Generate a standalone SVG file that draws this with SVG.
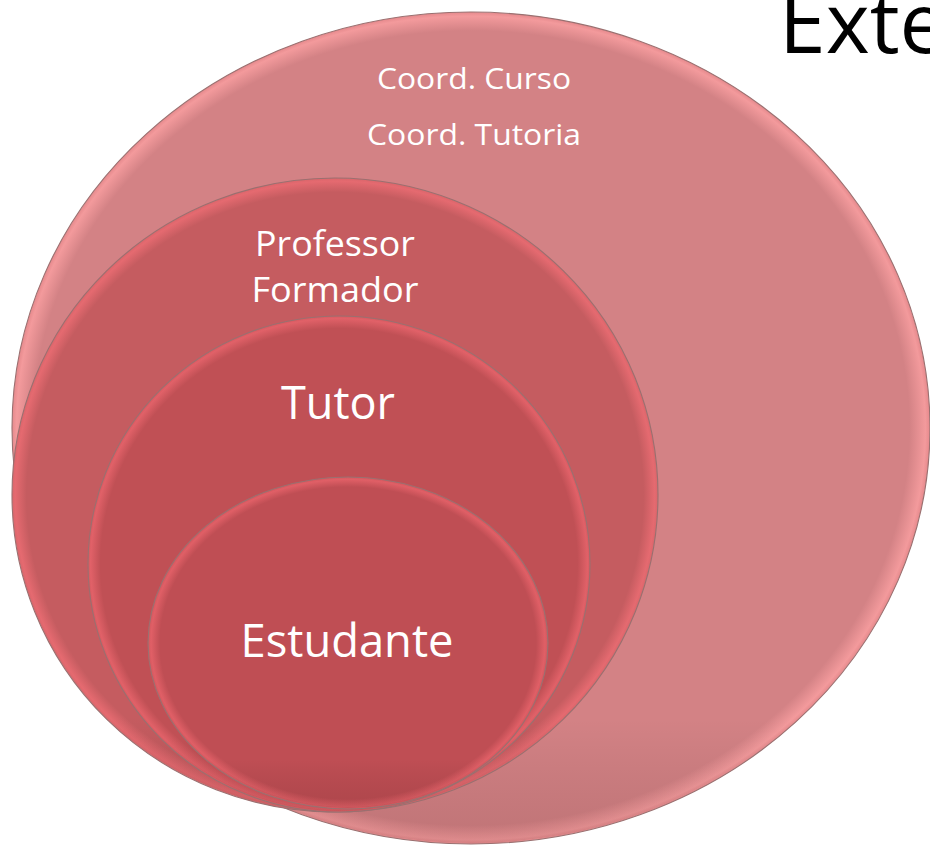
<svg xmlns="http://www.w3.org/2000/svg" width="930" height="850" viewBox="0 0 930 850">
  <defs>
    <radialGradient id="gOuter" cx="0.5" cy="0.5" r="0.5">
      <stop offset="0" stop-color="#d38285"/>
      <stop offset="0.955" stop-color="#d38285"/>
      <stop offset="0.99" stop-color="#f39a9c"/>
      <stop offset="1" stop-color="#e5898c"/>
    </radialGradient>
    <radialGradient id="gProf" cx="0.5" cy="0.5" r="0.5">
      <stop offset="0" stop-color="#c55c60"/>
      <stop offset="0.955" stop-color="#c55c60"/>
      <stop offset="0.99" stop-color="#e56a70"/>
      <stop offset="1" stop-color="#d9666b"/>
    </radialGradient>
    <radialGradient id="gTutor" cx="0.5" cy="0.5" r="0.5">
      <stop offset="0" stop-color="#c05055"/>
      <stop offset="0.95" stop-color="#c05055"/>
      <stop offset="0.99" stop-color="#e16168"/>
      <stop offset="1" stop-color="#d45a60"/>
    </radialGradient>
    <radialGradient id="gEst" cx="0.5" cy="0.5" r="0.5">
      <stop offset="0" stop-color="#bf4e54"/>
      <stop offset="0.94" stop-color="#bf4e54"/>
      <stop offset="0.985" stop-color="#e05f66"/>
      <stop offset="1" stop-color="#d2585e"/>
    </radialGradient>
    <linearGradient id="gShade" x1="0" y1="0" x2="0" y2="1">
      <stop offset="0" stop-color="#000" stop-opacity="0"/>
      <stop offset="0.85" stop-color="#000" stop-opacity="0"/>
      <stop offset="1" stop-color="#3a1010" stop-opacity="0.12"/>
    </linearGradient>
  </defs>
  <style>
    .rim { stroke: #9a7070; stroke-width: 1.1; }
    .lbl { font-family: "Open Sans", "Lato", "Liberation Sans", sans-serif; fill: #ffffff; text-anchor: middle; }
    .title { font-family: "Open Sans", "Lato", "Liberation Sans", sans-serif; fill: #000000; }
  </style>

  <text class="title" x="779" y="53" font-size="84">Exte</text>

  <g id="coord">
    <ellipse cx="471" cy="428" rx="459" ry="416" fill="url(#gOuter)" class="rim"/>
    <ellipse cx="471" cy="428" rx="458" ry="415" fill="url(#gShade)"/>
    <text class="lbl" x="474" y="89" font-size="29" textLength="194" lengthAdjust="spacingAndGlyphs">Coord. Curso</text>
    <text class="lbl" x="474" y="145" font-size="29" textLength="214" lengthAdjust="spacingAndGlyphs">Coord. Tutoria</text>
  </g>

  <g id="professor">
    <ellipse cx="335" cy="495" rx="323" ry="317" fill="url(#gProf)" class="rim"/>
    <ellipse cx="335" cy="495" rx="322" ry="316" fill="url(#gShade)"/>
    <text class="lbl" x="335" y="256" font-size="34" textLength="160" lengthAdjust="spacingAndGlyphs">Professor</text>
    <text class="lbl" x="335" y="302" font-size="34" textLength="167" lengthAdjust="spacingAndGlyphs">Formador</text>
  </g>

  <g id="tutor">
    <ellipse cx="339" cy="564" rx="251" ry="248" fill="url(#gTutor)" class="rim"/>
    <ellipse cx="339" cy="564" rx="250" ry="247" fill="url(#gShade)"/>
    <text class="lbl" x="338" y="419" font-size="45" textLength="114" lengthAdjust="spacingAndGlyphs">Tutor</text>
  </g>

  <g id="estudante">
    <ellipse cx="348" cy="643" rx="200" ry="166" fill="url(#gEst)" class="rim"/>
    <ellipse cx="348" cy="643" rx="199" ry="165" fill="url(#gShade)"/>
    <text class="lbl" x="347" y="657" font-size="45" textLength="213" lengthAdjust="spacingAndGlyphs">Estudante</text>
  </g>

  <g id="connectors"/>
</svg>
